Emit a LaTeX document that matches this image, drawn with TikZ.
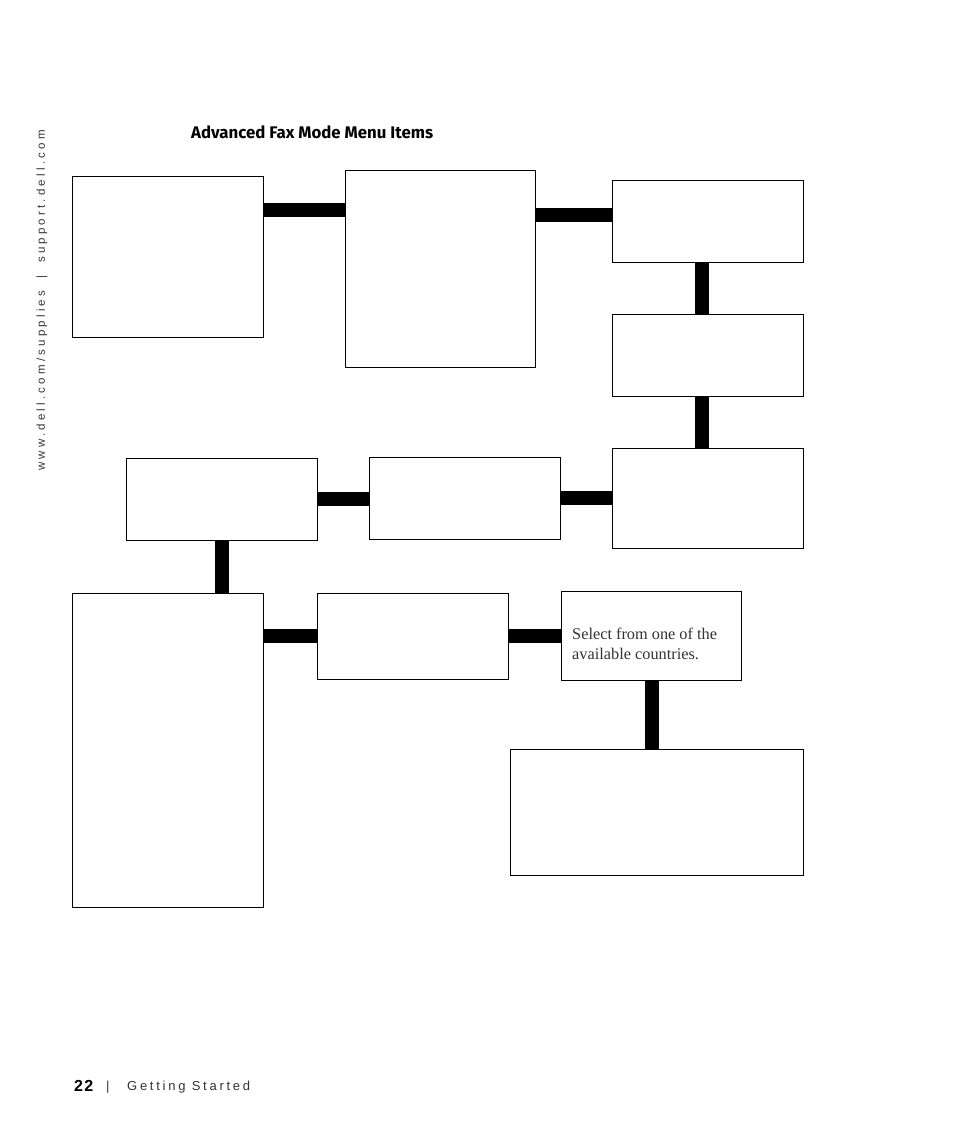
\documentclass[tikz,border=0pt]{standalone}
\usepackage{fontspec}
\usepackage{xcolor}
\setmainfont{Liberation Serif}
\newfontfamily\headfont{Fira Sans}
\newfontfamily\sidefont[LetterSpace=28]{Liberation Sans}
\newfontfamily\footfont[LetterSpace=21]{Liberation Sans}
\newfontfamily\pagefont[LetterSpace=8]{Liberation Sans}
\definecolor{ink}{HTML}{000000}
\definecolor{inkgray}{HTML}{333333}
\tikzset{
  menubox/.style={draw=ink, line width=1pt, fill=white, inner sep=0pt, outer sep=0pt},
  link/.style={draw=ink, line width=14pt},
  headlab/.style={text=ink, font=\headfont\bfseries\fontsize{16.8}{20}\selectfont, inner sep=0pt},
  bodylab/.style={text=inkgray, font=\fontsize{16.3}{20}\selectfont, inner sep=0pt, align=left},
  sidelab/.style={text=inkgray, font=\sidefont\fontsize{11.5}{14}\selectfont, inner sep=0pt},
  footlab/.style={text=inkgray, font=\footfont\fontsize{13}{15}\selectfont, inner sep=0pt},
  pagelab/.style={text=ink, font=\pagefont\bfseries\fontsize{16}{19}\selectfont, inner sep=0pt}
}
\begin{document}
\begin{tikzpicture}[x=1pt,y=-1pt]
  \useasboundingbox (0,0) rectangle (954,1145);
  % top row
  \node[menubox, minimum width=191pt, minimum height=161pt] (fax) at (167.5,256.5) {};
  \node[menubox, minimum width=190pt, minimum height=197pt] (setup) at (440,268.5) {};
  \node[menubox, minimum width=191pt, minimum height=82pt] (rightA) at (707.5,221) {};
  \node[menubox, minimum width=191pt, minimum height=82pt] (rightB) at (707.5,355) {};
  % middle row
  \node[menubox, minimum width=191pt, minimum height=100pt] (rightC) at (707.5,498) {};
  \node[menubox, minimum width=191pt, minimum height=82pt] (midA) at (464.5,498) {};
  \node[menubox, minimum width=191pt, minimum height=82pt] (midB) at (221.5,499) {};
  % bottom row
  \node[menubox, minimum width=191pt, minimum height=314pt] (lowA) at (167.5,750) {};
  \node[menubox, minimum width=191pt, minimum height=86pt] (lowB) at (412.5,636) {};
  \node[menubox, minimum width=180pt, minimum height=89pt] (country) at (651,635.5) {};
  \node[menubox, minimum width=293pt, minimum height=126pt] (lowC) at (656.5,812) {};
  % links
  \draw[link] (fax.east |- 0,210) -- (setup.west |- 0,210);
  \draw[link] (setup.east |- 0,215) -- (rightA.west |- 0,215);
  \draw[link] (rightA.south -| 702,0) -- (rightB.north -| 702,0);
  \draw[link] (rightB.south -| 702,0) -- (rightC.north -| 702,0);
  \draw[link] (rightC.west |- 0,498) -- (midA.east |- 0,498);
  \draw[link] (midA.west |- 0,499) -- (midB.east |- 0,499);
  \draw[link] (midB.south -| 222,0) -- (lowA.north -| 222,0);
  \draw[link] (lowA.east |- 0,636) -- (lowB.west |- 0,636);
  \draw[link] (lowB.east |- 0,636) -- (country.west |- 0,636);
  \draw[link] (country.south -| 652,0) -- (lowC.north -| 652,0);
  % texts
  \node[bodylab, anchor=west] (countrytxt) at (572,644) {Select from one of the\\available countries.};
  \node[headlab, anchor=west] (title) at (191,132.5) {Advanced Fax Mode Menu Items};
  \node[sidelab, rotate=90, anchor=west] (side) at (42,471) {www.dell.com/supplies\hspace{6pt} | \hspace{6pt}support.dell.com};
  \node[pagelab, anchor=west] (pagenum) at (74,1086) {22};
  \node[footlab, anchor=west] (pagesep) at (106,1087) {|};
  \node[footlab, anchor=west] (foot) at (127,1087) {Getting Started};
\end{tikzpicture}
\end{document}
